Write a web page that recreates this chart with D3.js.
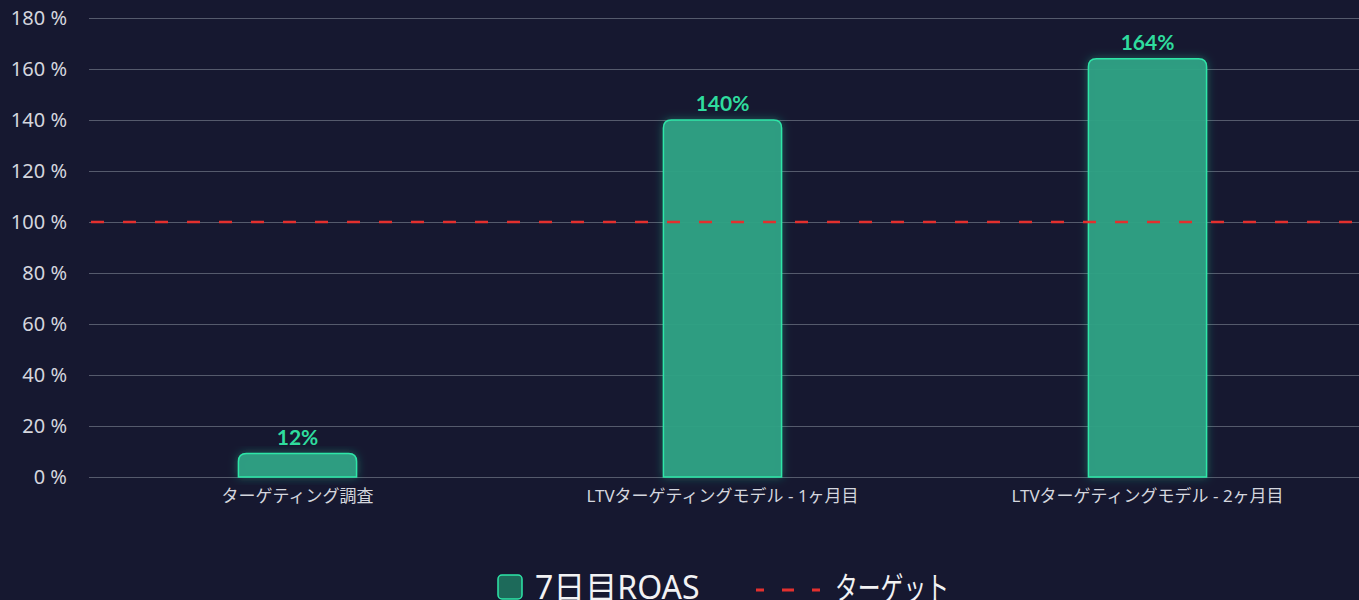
<!DOCTYPE html>
<html>
<head>
<meta charset="utf-8">
<script src="https://cdn.jsdelivr.net/npm/d3@7"></script>
<style>
  html, body { margin: 0; padding: 0; background: #161830; }
  svg { display: block; }
</style>
</head>
<body>
<div id="chart"></div>
<script>
// values as drawn in the picture; labels as printed above the bars
const categories = ['ターゲティング調査', 'LTVターゲティングモデル - 1ヶ月目', 'LTVターゲティングモデル - 2ヶ月目'];
const roas = [9.2, 140, 164];
const roasLabels = ['12%', '140%', '164%'];
const target = 100;
const yTicks = [0, 20, 40, 60, 80, 100, 120, 140, 160, 180];
const legendItems = ['7日目ROAS', 'ターゲット'];

const width = 1359;
const height = 600;
// latin glyphs from Noto Sans, kana / kanji fall back to the CJK face
const font = '"Noto Sans", "Noto Sans CJK JP", sans-serif';

const svg = d3.select('#chart')
  .append('svg')
  .attr('width', width)
  .attr('height', height);

const defs = svg.append('defs');
const glow = defs.append('filter').attr('id', 'glow')
  .attr('x', '-30%').attr('y', '-30%').attr('width', '160%').attr('height', '160%');
glow.append('feGaussianBlur').attr('in', 'SourceAlpha').attr('stdDeviation', 5).attr('result', 'b');
glow.append('feFlood').attr('flood-color', '#2ee6a8').attr('flood-opacity', 0.35);
glow.append('feComposite').attr('in2', 'b').attr('operator', 'in').attr('result', 'g');
const merge = glow.append('feMerge');
merge.append('feMergeNode').attr('in', 'g');
merge.append('feMergeNode').attr('in', 'SourceGraphic');

const xScale = d3.scaleBand()
  .domain(categories)
  .range([85, 1360])
  .paddingInner(0.722)
  .paddingOuter(0.361);

const yScale = d3.scaleLinear()
  .domain([0, 180])
  .range([477, 18]);

// gridlines
svg.append('g')
  .attr('class', 'gridlines')
  .attr('transform', 'translate(89, 0)')
  .call(d3.axisLeft(yScale).tickValues(yTicks).tickFormat('').tickSize(-(width - 89)))
  .call(g => g.select('.domain').remove())
  .call(g => g.selectAll('line').attr('stroke', '#555a6c').attr('stroke-width', 1));

// y tick labels
svg.append('g')
  .attr('transform', 'translate(67, 0)')
  .call(d3.axisLeft(yScale).tickValues(yTicks).tickFormat(d => d + ' %').tickSize(0).tickPadding(0))
  .call(g => g.select('.domain').remove())
  .call(g => g.selectAll('text')
    .attr('fill', '#d4d6de')
    .style('font-family', font)
    .style('font-size', '20px'));

// bars with rounded top corners
const r = 8;
function barPath(x, y, w, h) {
  const rr = Math.min(r, h);
  return `M${x},${y + h} V${y + rr} Q${x},${y} ${x + rr},${y} H${x + w - rr} Q${x + w},${y} ${x + w},${y + rr} V${y + h} Z`;
}

svg.append('g')
  .attr('class', 'bars')
  .selectAll('path')
  .data(categories)
  .join('path')
  .attr('d', (d, i) => barPath(xScale(d), yScale(roas[i]), xScale.bandwidth(), yScale(0) - yScale(roas[i])))
  .attr('fill', '#30a084')
  .attr('fill-opacity', 0.95)
  .attr('stroke', '#2ee6a8')
  .attr('stroke-width', 1.5)
  .attr('filter', 'url(#glow)');

// value labels
svg.append('g')
  .selectAll('text')
  .data(categories)
  .join('text')
  .attr('x', d => xScale(d) + xScale.bandwidth() / 2)
  .attr('y', (d, i) => yScale(roas[i]) - 9)
  .attr('text-anchor', 'middle')
  .attr('fill', '#2fdc9e')
  .style('font-family', 'Lato, "Noto Sans", sans-serif')
  .style('font-weight', 'bold')
  .style('font-size', '21px')
  .text((d, i) => roasLabels[i]);

// target line
svg.append('line')
  .attr('x1', 89)
  .attr('x2', width)
  .attr('y1', yScale(target))
  .attr('y2', yScale(target))
  .attr('stroke', '#e3302e')
  .attr('stroke-width', 2.5)
  .attr('stroke-dasharray', '13 19')
  .attr('stroke-dashoffset', -2);

// x axis labels
svg.append('g')
  .attr('transform', `translate(0, ${yScale(0)})`)
  .call(d3.axisBottom(xScale).tickSize(0).tickPadding(13))
  .call(g => g.select('.domain').remove())
  .call(g => g.selectAll('text')
    .attr('fill', '#d4d6de')
    .style('font-family', font)
    .style('font-size', '17px'));

// legend
const legend = svg.append('g').attr('transform', 'translate(0, 587)');
legend.append('rect')
  .attr('x', 498).attr('y', -12)
  .attr('width', 24).attr('height', 24)
  .attr('rx', 4)
  .attr('fill', '#1d6a5a')
  .attr('stroke', '#2ee6a8')
  .attr('stroke-width', 1.5);
legend.append('text')
  .attr('x', 535).attr('y', 0)
  .attr('dy', '0.38em')
  .attr('fill', '#f2f2f4')
  .style('font-family', font)
  .style('font-size', '32px')
  .text(legendItems[0]);
legend.append('line')
  .attr('x1', 756).attr('x2', 820)
  .attr('y1', 3).attr('y2', 3)
  .attr('stroke', '#e3302e')
  .attr('stroke-width', 3)
  .attr('stroke-dasharray', '12 18')
  .attr('stroke-dashoffset', 4);
legend.append('text')
  .attr('x', 835).attr('y', 0)
  .attr('dy', '0.38em')
  .attr('fill', '#f2f2f4')
  .style('font-family', font)
  .style('font-size', '31px')
  .attr('textLength', 114)
  .attr('lengthAdjust', 'spacingAndGlyphs')
  .text(legendItems[1]);
</script>
</body>
</html>
